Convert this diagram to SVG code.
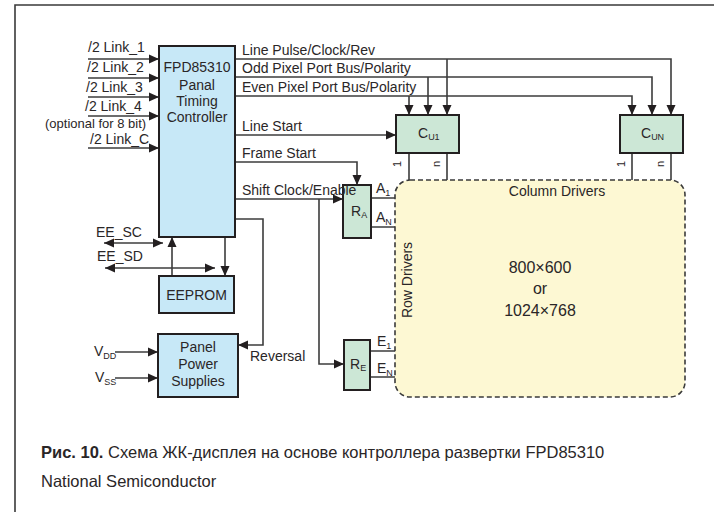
<svg xmlns="http://www.w3.org/2000/svg" width="714" height="512" viewBox="0 0 714 512">
<defs>
<marker id="ah" markerUnits="userSpaceOnUse" markerWidth="11" markerHeight="10" refX="10" refY="4.5" orient="auto-start-reverse" viewBox="0 0 11 9">
<path d="M0,0 L10,4.5 L0,9 z" fill="#231f20"/>
</marker>
<style>
text{font-family:"Liberation Sans",Arial,sans-serif;fill:#2a2627;font-size:14px}
.m{text-anchor:middle}
.sub{font-size:9px}
.sm{font-size:11px}
.box{stroke:#231f20;stroke-width:2}
.blue{fill:#c7e8f7}
.green{fill:#cce7d6}
.ln{fill:none;stroke:#3c3c3c;stroke-width:1.6}
.ar{marker-end:url(#ah)}
.ar2{marker-start:url(#ah);marker-end:url(#ah)}
.cap{font-size:16.5px}
</style>
</defs>
<rect x="0" y="0" width="714" height="512" fill="#ffffff"/>
<path d="M15,512 V5 H714" fill="none" stroke="#3a3a3a" stroke-width="1.6"/>

<g id="connectors">
<path class="ln ar" d="M88,59 H159"/>
<path class="ln ar" d="M88,78 H159"/>
<path class="ln ar" d="M88,97 H159"/>
<path class="ln ar" d="M88,116 H159"/>
<path class="ln ar" d="M88,148 H159"/>
<path class="ln ar" d="M235,59 H671 V115"/>
<path class="ln ar" d="M447,59 V115"/>
<path class="ln ar" d="M235,77 H652 V115"/>
<path class="ln ar" d="M428,77 V115"/>
<path class="ln ar" d="M235,96 H632 V115"/>
<path class="ln ar" d="M409,96 V115"/>
<path class="ln ar" d="M235,135 H396"/>
<path class="ln ar" d="M235,162 H357 V185"/>
<path class="ln ar" d="M235,199 H343"/>
<path class="ln ar" d="M319,199 V364 H344"/>
<path class="ln ar" d="M235,219 H263 V345 H238"/>
<path class="ln ar" d="M172,276 V237"/>
<path class="ln ar" d="M225,237 V276"/>
<path class="ln ar2" d="M104,243 H163"/>
<path class="ln ar2" d="M105,268 H215"/>
<path class="ln ar" d="M115,352 H158"/>
<path class="ln ar" d="M115,378 H158"/>
<path class="ln" d="M409,153 V180 M447,153 V180 M632,153 V180 M671,153 V180"/>
<path class="ln" d="M371,198 H395 M371,227 H395 M370,351 H395 M370,377 H395"/>
</g>

<g id="controller">
<rect class="box blue" x="159" y="46" width="76" height="191"/>
<text class="m" x="197" y="72">FPD85310</text>
<text class="m" x="197" y="90">Panal</text>
<text class="m" x="197" y="106">Timing</text>
<text class="m" x="197" y="122">Controller</text>
</g>

<g id="eeprom">
<rect class="box blue" x="159" y="276" width="75" height="37"/>
<text class="m" x="196.5" y="300">EEPROM</text>
</g>

<g id="power">
<rect class="box blue" x="158" y="334" width="80" height="63"/>
<text class="m" x="198" y="352">Panel</text>
<text class="m" x="198" y="369">Power</text>
<text class="m" x="198" y="386">Supplies</text>
</g>

<g id="cu1">
<rect class="box green" x="396" y="115" width="63" height="38"/>
<text x="418" y="138">C<tspan class="sub" dy="2">U1</tspan></text>
</g>

<g id="cun">
<rect class="box green" x="620" y="115" width="63" height="38"/>
<text x="641" y="138">C<tspan class="sub" dy="2">UN</tspan></text>
</g>

<g id="ra">
<rect class="box green" x="343" y="185" width="28" height="53"/>
<text x="351" y="216">R<tspan class="sub" dy="2">A</tspan></text>
</g>

<g id="re">
<rect class="box green" x="344" y="340" width="26" height="50"/>
<text x="350" y="369">R<tspan class="sub" dy="2">E</tspan></text>
</g>

<g id="display">
<rect x="395" y="180" width="290" height="217" rx="15" fill="#fdf8d3" stroke="#3a3a3a" stroke-width="1.6" stroke-dasharray="5,3"/>
<text class="m" x="557" y="196">Column Drivers</text>
<text class="m" transform="translate(412,280) rotate(-90)">Row Drivers</text>
<text class="m" x="540" y="273" style="font-size:16px">800×600</text>
<text class="m" x="540" y="294" style="font-size:16px">or</text>
<text class="m" x="540" y="316" style="font-size:16px">1024×768</text>
</g>

<g id="labels">
<text x="88" y="52">/2 Link_1</text>
<text x="87" y="72">/2 Link_2</text>
<text x="86" y="92">/2 Link_3</text>
<text x="85" y="111">/2 Link_4</text>
<text x="45" y="128" style="font-size:13px">(optional for 8 bit)</text>
<text x="90" y="144">/2 Link_C</text>
<text x="242" y="55">Line Pulse/Clock/Rev</text>
<text x="242" y="73">Odd Pixel Port Bus/Polarity</text>
<text x="242" y="92">Even Pixel Port Bus/Polarity</text>
<text x="242" y="131">Line Start</text>
<text x="242" y="158">Frame Start</text>
<text x="242" y="195">Shift Clock/Enable</text>
<text x="250" y="361">Reversal</text>
<text x="96" y="237">EE_SC</text>
<text x="97" y="261">EE_SD</text>
<text x="94" y="356">V<tspan class="sub" dy="3">DD</tspan></text>
<text x="95" y="382">V<tspan class="sub" dy="3">SS</tspan></text>
<text x="376" y="193">A<tspan class="sub" dy="3">1</tspan></text>
<text x="376" y="222">A<tspan class="sub" dy="3">N</tspan></text>
<text x="377" y="346">E<tspan class="sub" dy="3">1</tspan></text>
<text x="377" y="373">E<tspan class="sub" dy="3">N</tspan></text>
<text class="sm" transform="translate(401,164) rotate(-90)" text-anchor="middle">1</text>
<text class="sm" transform="translate(440,164) rotate(-90)" text-anchor="middle">n</text>
<text class="sm" transform="translate(625,164) rotate(-90)" text-anchor="middle">1</text>
<text class="sm" transform="translate(664,164) rotate(-90)" text-anchor="middle">n</text>
</g>

<g id="caption">
<text class="cap" x="41" y="458"><tspan font-weight="bold">Рис. 10.</tspan> Схема ЖК-дисплея на основе контроллера развертки FPD85310</text>
<text class="cap" x="41" y="487">National Semiconductor</text>
</g>
</svg>
